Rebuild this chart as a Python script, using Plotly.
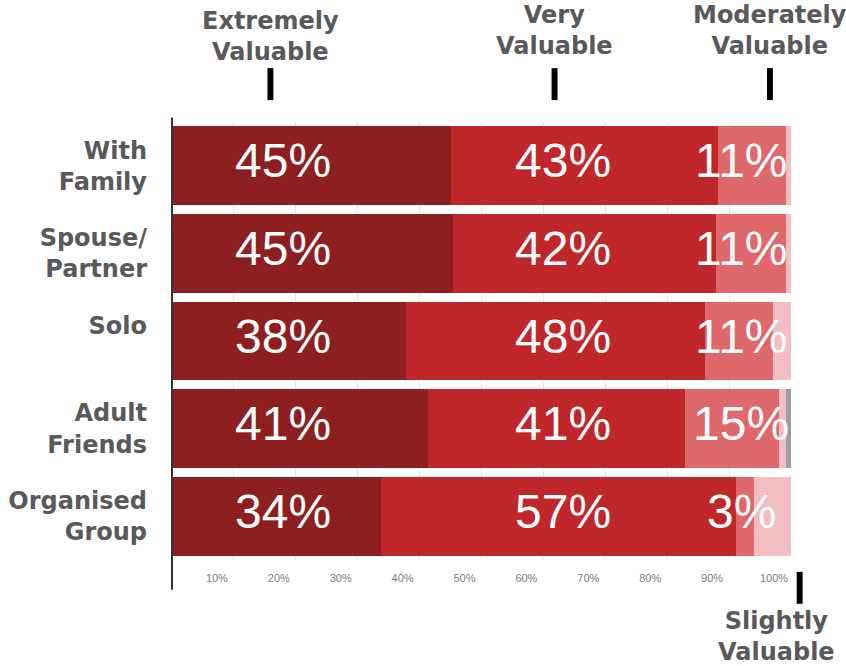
import plotly.graph_objects as go

# ---------------- data ----------------
groups = ["With<br>Family", "Spouse/<br>Partner", "Solo<br> ", "Adult<br>Friends", "Organised<br>Group"]
extremely = [45.0, 45.4, 37.8, 41.4, 33.8]
very = [43.2, 42.5, 48.3, 41.5, 57.3]
moderately = [11.0, 11.3, 11.0, 15.2, 2.9]
slightly = [0.8, 0.8, 2.9, 1.1, 6.0]
not_valuable = [0.0, 0.0, 0.0, 0.8, 0.0]

extremely_lbl = ["45%", "45%", "38%", "41%", "34%"]
very_lbl = ["43%", "42%", "48%", "41%", "57%"]
moderately_lbl = ["11%", "11%", "11%", "15%", "3%"]

tick_vals = [10, 20, 30, 40, 50, 60, 70, 80, 90, 100]
tick_text = ["10%", "20%", "30%", "40%", "50%", "60%", "70%", "80%", "90%", "100%"]

# ---------------- style ----------------
C_EXT = "#8e1f21"
C_VERY = "#bf272b"
C_MOD = "#df686c"
C_SLI = "#f2bec1"
C_NOT = "#9c9da2"
GREY_TXT = "#58595b"
HEAD_FONT = dict(family="DejaVu Sans", size=24, color=GREY_TXT)
NUM_FONT = dict(family="Liberation Sans", size=48, color="white")
LABEL_COLS = [17.9, 63.2, 92.0]

fig = go.Figure()
for name, vals, col in [("Extremely", extremely, C_EXT), ("Very", very, C_VERY),
                        ("Moderately", moderately, C_MOD), ("Slightly", slightly, C_SLI),
                        ("Not", not_valuable, C_NOT)]:
    fig.add_trace(go.Bar(y=groups, x=vals, orientation="h", marker=dict(color=col, line=dict(width=0)),
                         name=name, hoverinfo="skip"))

annotations = []
for lbls, xc in zip([extremely_lbl, very_lbl, moderately_lbl], LABEL_COLS):
    for g, t in zip(groups, lbls):
        annotations.append(dict(x=xc, y=g, xref="x", yref="y", text=t, showarrow=False,
                                font=NUM_FONT, xanchor="center", yanchor="middle", yshift=5))

headers = [("Extremely<br>Valuable", 0.159, 1.196), ("Very<br>Valuable", 0.618, 1.208),
           ("Moderately<br>Valuable", 0.966, 1.208), ("Slightly<br>Valuable", 0.977, -0.174)]
for t, xc, yc in headers:
    annotations.append(dict(x=xc, y=yc, xref="paper", yref="paper", text="<b>" + t + "</b>",
                            showarrow=False, font=HEAD_FONT, xanchor="center", yanchor="middle"))

shapes = []
for xc, y0, y1 in [(0.159, 1.050, 1.123), (0.618, 1.050, 1.123), (0.966, 1.050, 1.123), (1.014, -0.100, -0.027)]:
    shapes.append(dict(type="rect", xref="paper", yref="paper", x0=xc - 0.0048, x1=xc + 0.0048, y0=y0, y1=y1,
                       fillcolor="black", line=dict(width=0), layer="above"))
shapes.append(dict(type="line", xref="paper", yref="paper", x0=0, x1=0, y0=-0.068, y1=1.01,
                   line=dict(color="#333333", width=2), layer="above"))

fig.update_layout(
    barmode="stack",
    bargap=0.1,
    width=846, height=666,
    margin=dict(l=172, r=55, t=122, b=106, autoexpand=False),
    paper_bgcolor="white", plot_bgcolor="white",
    showlegend=False,
    annotations=annotations,
    shapes=shapes,
    xaxis=dict(range=[0, 100], tickvals=tick_vals, ticktext=tick_text, showgrid=True,
               gridcolor="#e6e6e6", gridwidth=1, zeroline=False, showline=False, automargin=False,
               tickfont=dict(family="Liberation Sans", size=11, color="#7a7a7a"),
               ticklabelshift=-17, ticklabelstandoff=10, fixedrange=True),
    yaxis=dict(autorange="reversed", showgrid=False, zeroline=False, showline=False, automargin=False,
               tickfont=dict(family="DejaVu Sans", size=24, color=GREY_TXT),
               ticklabelstandoff=24, fixedrange=True),
)
fig.update_yaxes(tickvals=groups, ticktext=["<b>" + g + "</b>" for g in groups])

fig.write_html("out.html", config={"displayModeBar": False},
               post_script="document.body.style.margin='0';document.body.style.padding='0';")
